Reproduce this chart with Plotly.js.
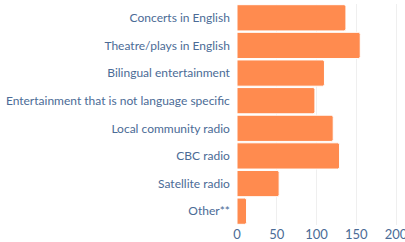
<!DOCTYPE html>
<html><head><meta charset="utf-8">
<script src="https://cdn.plot.ly/plotly-3.0.1.min.js"></script>
<style>html,body{margin:0;padding:0;background:#fff}#chart{width:405px;height:242px}</style>
</head><body><div id="chart"></div>
<script>
const categories = ["Concerts in English","Theatre/plays in English","Bilingual entertainment","Entertainment that is not language specific","Local community radio","CBC radio","Satellite radio","Other**"];
const values = [137, 155, 110, 98, 121, 129, 53, 12];
const tickVals = [0, 50, 100, 150, 200];

const textColor = "#4b6b96";
Plotly.newPlot("chart", [{
  type: "bar", orientation: "h",
  x: values, y: categories,
  marker: {color: "#FF8B4F", line: {color: "#ffffff", width: 1}, cornerradius: 2},
  hoverinfo: "x+y"
}], {
  width: 405, height: 242,
  margin: {l: 237, r: 5, t: 4, b: 17},
  paper_bgcolor: "#fff", plot_bgcolor: "#fff",
  bargap: 0.05,
  font: {family: "Lato, sans-serif", size: 12, color: textColor},
  showlegend: false,
  xaxis: {range: [0, 205], tickvals: tickVals, showgrid: true, gridcolor: "#efefef", zeroline: false,
          ticklabeloverflow: "allow",
          tickfont: {size: 13, color: textColor}, ticks: "", showline: false, fixedrange: true},
  yaxis: {autorange: "reversed", ticks: "", ticksuffix: "  ", showgrid: false, zeroline: false,
          tickfont: {size: 12, color: textColor}, fixedrange: true}
}, {displayModeBar: false, staticPlot: true});
</script></body></html>
